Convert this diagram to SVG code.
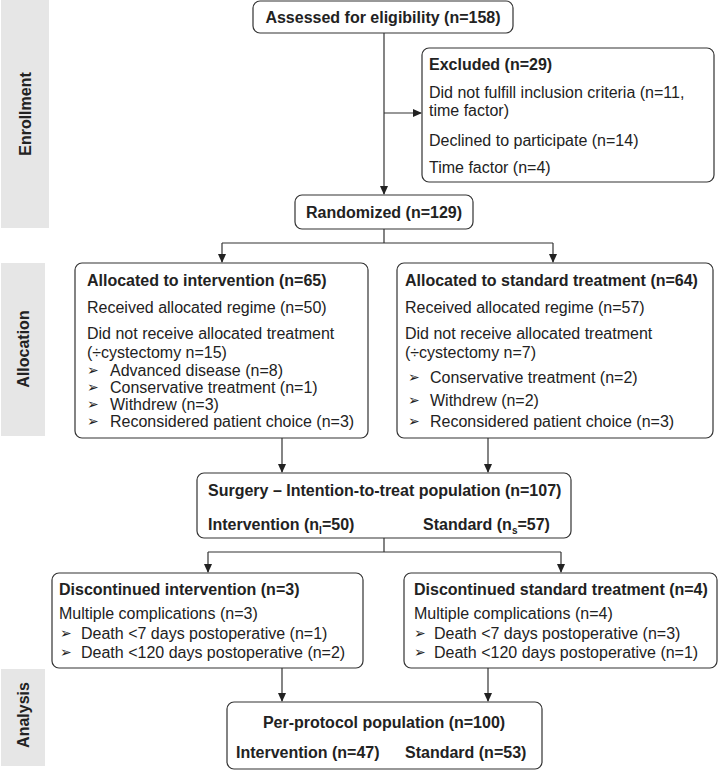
<svg xmlns="http://www.w3.org/2000/svg" width="719" height="771" viewBox="0 0 719 771">
<defs>
<marker id="ah" markerWidth="10" markerHeight="10" refX="8" refY="5" orient="auto" markerUnits="userSpaceOnUse">
<path d="M0,1 L9,5 L0,9 Z" fill="#222"/>
</marker>
<style>
.bar{fill:#e6e6e6}
.box{fill:#fff;stroke:#333;stroke-width:1.2}
.t{font-family:"Liberation Sans",Arial,sans-serif;font-size:16px;fill:#222}
.b{font-weight:bold}
.side{font-family:"Liberation Sans",Arial,sans-serif;font-size:16px;font-weight:bold;fill:#222}
.bul{font-family:"DejaVu Sans",sans-serif;font-size:14px;fill:#222}
.c{fill:none;stroke:#333;stroke-width:1.2}
.sub{font-size:10px}
</style>
</defs>
<rect width="719" height="771" fill="#fff"/>
<g id="bars">
<rect class="bar" x="1" y="0" width="48" height="228"/>
<text class="side" transform="translate(31,114) rotate(-90)" text-anchor="middle">Enrollment</text>
<rect class="bar" x="1" y="263" width="44" height="173"/>
<text class="side" transform="translate(29,349) rotate(-90)" text-anchor="middle">Allocation</text>
<rect class="bar" x="1" y="669" width="44" height="97"/>
<text class="side" transform="translate(29,715) rotate(-90)" text-anchor="middle">Analysis</text>
</g>
<g id="connectors">
<path class="c" d="M384,33 V194" marker-end="url(#ah)"/>
<path class="c" d="M384,113 H421" marker-end="url(#ah)"/>
<path class="c" d="M384,229 V243 M222,243 H553"/>
<path class="c" d="M222,243 V262" marker-end="url(#ah)"/>
<path class="c" d="M553,243 V262" marker-end="url(#ah)"/>
<path class="c" d="M282,438 V472" marker-end="url(#ah)"/>
<path class="c" d="M488,438 V472" marker-end="url(#ah)"/>
<path class="c" d="M384,538 V552 M208,552 H561"/>
<path class="c" d="M208,552 V572" marker-end="url(#ah)"/>
<path class="c" d="M561,552 V572" marker-end="url(#ah)"/>
<path class="c" d="M282,668 V701" marker-end="url(#ah)"/>
<path class="c" d="M488,668 V701" marker-end="url(#ah)"/>
</g>
<g id="assessed">
<rect class="box" x="253" y="1" width="260" height="32" rx="7"/>
<text class="t b" x="383" y="23" text-anchor="middle">Assessed for eligibility (n=158)</text>
</g>
<g id="excluded">
<rect class="box" x="422" y="48" width="292" height="134" rx="7"/>
<text class="t b" x="429" y="70">Excluded (n=29)</text>
<text class="t" x="429" y="98">Did not fulfill inclusion criteria (n=11,</text>
<text class="t" x="429" y="116">time factor)</text>
<text class="t" x="429" y="146">Declined to participate (n=14)</text>
<text class="t" x="429" y="173">Time factor (n=4)</text>
</g>
<g id="randomized">
<rect class="box" x="295" y="195" width="178" height="34" rx="7"/>
<text class="t b" x="384" y="218" text-anchor="middle">Randomized (n=129)</text>
</g>
<g id="alloc-int">
<rect class="box" x="75" y="263" width="293" height="175" rx="7"/>
<text class="t b" x="87" y="286">Allocated to intervention (n=65)</text>
<text class="t" x="87" y="313">Received allocated regime (n=50)</text>
<text class="t" x="87" y="339">Did not receive allocated treatment</text>
<text class="t" x="87" y="358">(÷cystectomy n=15)</text>
<text class="bul" x="87" y="375">➢</text><text class="t" x="110" y="376">Advanced disease (n=8)</text>
<text class="bul" x="87" y="392">➢</text><text class="t" x="110" y="393">Conservative treatment (n=1)</text>
<text class="bul" x="87" y="409">➢</text><text class="t" x="110" y="410">Withdrew (n=3)</text>
<text class="bul" x="87" y="426">➢</text><text class="t" x="110" y="427">Reconsidered patient choice (n=3)</text>
</g>
<g id="alloc-std">
<rect class="box" x="397" y="263" width="316" height="175" rx="7"/>
<text class="t b" x="405" y="286">Allocated to standard treatment (n=64)</text>
<text class="t" x="405" y="313">Received allocated regime (n=57)</text>
<text class="t" x="405" y="339">Did not receive allocated treatment</text>
<text class="t" x="405" y="358">(÷cystectomy n=7)</text>
<text class="bul" x="408" y="382">➢</text><text class="t" x="430" y="383">Conservative treatment (n=2)</text>
<text class="bul" x="408" y="405">➢</text><text class="t" x="430" y="406">Withdrew (n=2)</text>
<text class="bul" x="408" y="426">➢</text><text class="t" x="430" y="427">Reconsidered patient choice (n=3)</text>
</g>
<g id="surgery">
<rect class="box" x="197" y="473" width="374" height="65" rx="7"/>
<text class="t b" x="208" y="496">Surgery – Intention-to-treat population (n=107)</text>
<text class="t b" x="208" y="530">Intervention (n<tspan class="sub" dy="4">I</tspan><tspan dy="-4">=50)</tspan></text>
<text class="t b" x="423" y="530">Standard (n<tspan class="sub" dy="4">s</tspan><tspan dy="-4">=57)</tspan></text>
</g>
<g id="disc-int">
<rect class="box" x="52" y="573" width="311" height="95" rx="7"/>
<text class="t b" x="59" y="595">Discontinued intervention (n=3)</text>
<text class="t" x="59" y="619">Multiple complications (n=3)</text>
<text class="bul" x="60" y="638">➢</text><text class="t" x="81" y="639">Death &lt;7 days postoperative (n=1)</text>
<text class="bul" x="60" y="657">➢</text><text class="t" x="81" y="658">Death &lt;120 days postoperative (n=2)</text>
</g>
<g id="disc-std">
<rect class="box" x="404" y="573" width="313" height="95" rx="7"/>
<text class="t b" x="414" y="595">Discontinued standard treatment (n=4)</text>
<text class="t" x="414" y="619">Multiple complications (n=4)</text>
<text class="bul" x="414" y="638">➢</text><text class="t" x="434" y="639">Death &lt;7 days postoperative (n=3)</text>
<text class="bul" x="414" y="657">➢</text><text class="t" x="434" y="658">Death &lt;120 days postoperative (n=1)</text>
</g>
<g id="perprotocol">
<rect class="box" x="227" y="702" width="315" height="67" rx="7"/>
<text class="t b" x="384" y="728" text-anchor="middle">Per-protocol population (n=100)</text>
<text class="t b" x="236" y="758">Intervention (n=47)</text>
<text class="t b" x="405" y="758">Standard (n=53)</text>
</g>
</svg>
